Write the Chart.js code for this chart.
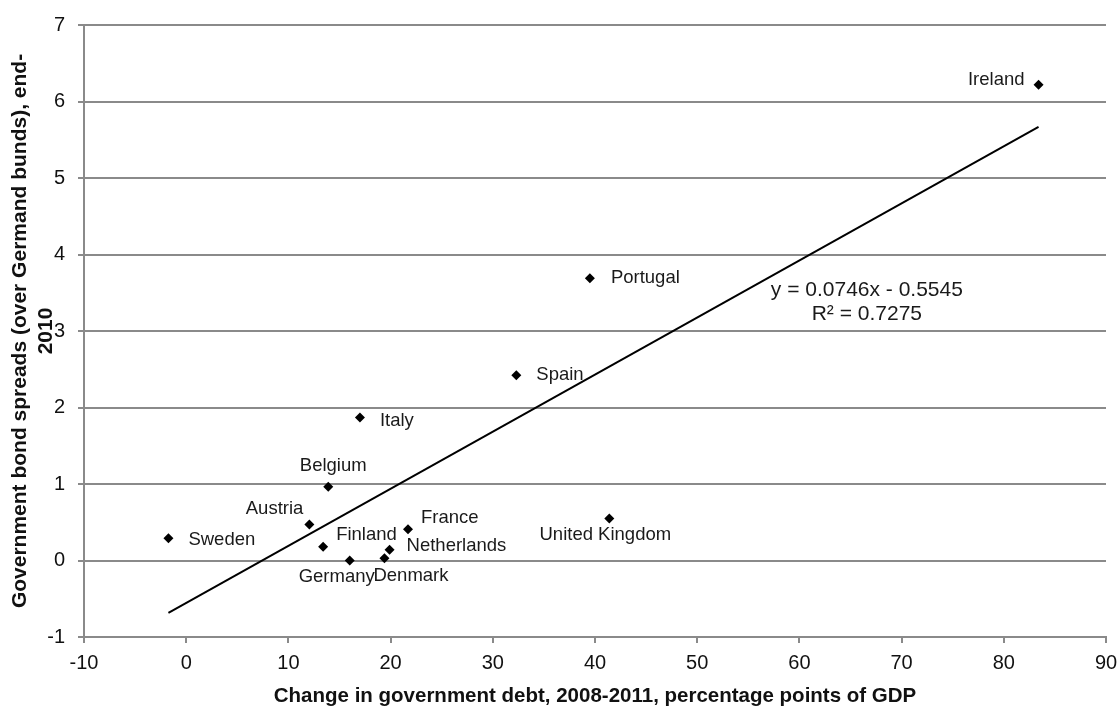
<!DOCTYPE html>
<html>
<head>
<meta charset="utf-8">
<title>Debt change vs bond spreads</title>
<script src="https://cdn.jsdelivr.net/npm/chart.js@4/dist/chart.umd.min.js"></script>
<style>
  html, body { margin: 0; padding: 0; background: #fff; }
  #wrap { width: 1120px; height: 706px; }
</style>
</head>
<body>
<div id="wrap"><canvas id="spreadChart" width="1120" height="706"></canvas></div>
<script>
// Data
const countries = ['Ireland', 'Portugal', 'Spain', 'Italy', 'Belgium', 'Austria', 'Sweden',
                   'Finland', 'Germany', 'Denmark', 'Netherlands', 'France', 'United Kingdom'];
const debtChange = [83.4, 39.5, 32.3, 17.0, 13.9, 12.05, -1.74, 13.4, 16.0, 19.4, 19.9, 21.7, 41.4];
const bondSpread = [6.22, 3.69, 2.42, 1.87, 0.965, 0.47, 0.29, 0.18, 0.0, 0.03, 0.14, 0.41, 0.55];

// linear trend shown on the chart
const trendSlope = 0.0746;
const trendIntercept = -0.5545;
const trendText = ['y = 0.0746x - 0.5545', 'R\u00B2 = 0.7275'];

const xTicks = [-10, 0, 10, 20, 30, 40, 50, 60, 70, 80, 90];
const yTicks = [-1, 0, 1, 2, 3, 4, 5, 6, 7];

// where each label sits relative to its marker (px)
const labelPlace = {
  'Ireland':        { dx: -14, dy: -5,  align: 'right' },
  'Portugal':       { dx: 21,  dy: 0,   align: 'left' },
  'Spain':          { dx: 20,  dy: 0,   align: 'left' },
  'Italy':          { dx: 20,  dy: 3,   align: 'left' },
  'Belgium':        { dx: 5,   dy: -21, align: 'center' },
  'Austria':        { dx: -6,  dy: -16, align: 'right' },
  'Sweden':         { dx: 20,  dy: 2,   align: 'left' },
  'Finland':        { dx: 13,  dy: -12, align: 'left' },
  'Germany':        { dx: -13, dy: 16,  align: 'center' },
  'Denmark':        { dx: -11, dy: 18,  align: 'left' },
  'Netherlands':    { dx: 17,  dy: -4,  align: 'left' },
  'France':         { dx: 13,  dy: -11, align: 'left' },
  'United Kingdom': { dx: -4,  dy: 16,  align: 'center' }
};

const FONT = "'Liberation Sans', Arial, sans-serif";
const GRID = '#8a8a8a';

// Trend line endpoints from the equation over the data range
function trendPoints() {
  const lo = Math.min(...debtChange);
  const hi = Math.max(...debtChange);
  return [lo, hi].map(x => ({ x: x, y: trendSlope * x + trendIntercept }));
}

// Country names + equation text
const labelPlugin = {
  id: 'pointLabels',
  afterDatasetsDraw(chart) {
    const ctx = chart.ctx;
    const meta = chart.getDatasetMeta(0);
    ctx.save();
    ctx.font = '18.5px ' + FONT;
    ctx.fillStyle = '#1a1a1a';
    ctx.textBaseline = 'middle';
    meta.data.forEach((pt, i) => {
      const p = labelPlace[countries[i]];
      ctx.textAlign = p.align;
      ctx.fillText(countries[i], pt.x + p.dx, pt.y + p.dy);
    });

    // equation block, anchored in data units
    const ex = chart.scales.x.getPixelForValue(66.6);
    const ey = chart.scales.y.getPixelForValue(3.53);
    ctx.font = '21px ' + FONT;
    ctx.textAlign = 'center';
    trendText.forEach((t, i) => ctx.fillText(t, ex, ey + i * 23.5));
    ctx.restore();
  }
};

function init() {
  const ctx = document.getElementById('spreadChart').getContext('2d');

  new Chart(ctx, {
    type: 'scatter',
    data: {
      datasets: [{
        label: 'Countries',
        data: debtChange.map((x, i) => ({ x: x, y: bondSpread[i] })),
        pointStyle: 'rectRot',
        pointRadius: 5,
        pointHoverRadius: 5,
        backgroundColor: '#000',
        borderColor: '#000',
        borderWidth: 0
      }, {
        type: 'line',
        label: 'Trend',
        data: trendPoints(),
        borderColor: '#000',
        borderWidth: 2,
        pointRadius: 0,
        fill: false
      }]
    },
    options: {
      responsive: false,
      devicePixelRatio: 1,
      animation: false,
      layout: { padding: { top: 21, right: 14, left: 0, bottom: 0 } },
      plugins: {
        legend: { display: false },
        tooltip: { enabled: false }
      },
      scales: {
        x: {
          type: 'linear',
          min: -10,
          max: 90,
          afterBuildTicks: s => { s.ticks = xTicks.map(v => ({ value: v })); },
          afterFit: s => { s.height = 69; s.paddingLeft = 0; s.paddingRight = 0; },
          grid: { drawOnChartArea: false, drawTicks: true, tickLength: 6, color: GRID, lineWidth: 2 },
          border: { display: true, color: GRID, width: 2 },
          ticks: { color: '#111', font: { family: FONT, size: 20 }, padding: 8 },
          title: {
            display: true,
            text: 'Change in government debt, 2008-2011, percentage points of GDP',
            color: '#111',
            font: { family: FONT, size: 20.5, weight: 'bold', lineHeight: 0.9 },
            padding: { top: 0, bottom: 0 }
          }
        },
        y: {
          type: 'linear',
          min: -1,
          max: 7,
          afterBuildTicks: s => { s.ticks = yTicks.map(v => ({ value: v })); },
          afterFit: s => { s.width = 84; },
          grid: { color: GRID, lineWidth: 2, tickLength: 6 },
          border: { display: true, color: GRID, width: 2 },
          ticks: { color: '#111', font: { family: FONT, size: 20 }, padding: 13 },
          title: {
            display: true,
            text: ['Government bond spreads (over Germand bunds), end-', '2010'],
            color: '#111',
            font: { family: FONT, size: 21, weight: 'bold', lineHeight: 1.2 },
            padding: { top: 8, bottom: 0 }
          }
        }
      }
    },
    plugins: [labelPlugin]
  });
  console.log('chart drawn');
}

document.addEventListener('DOMContentLoaded', init);
</script>
</body>
</html>
